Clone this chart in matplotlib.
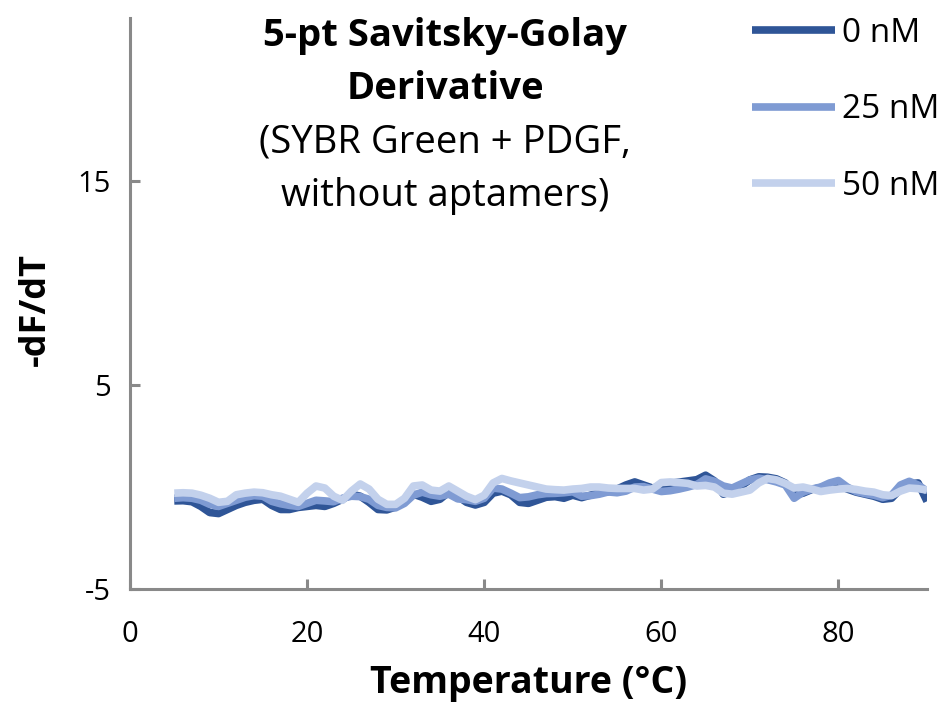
import matplotlib
matplotlib.use("Agg")
import matplotlib.pyplot as plt
import numpy as np

# Melt-curve derivative traces, one value per degree from 5 to 90 °C
temperature = np.arange(5, 91)

conc_labels = ["0 nM", "25 nM", "50 nM"]
conc_colors = ["#2f5597", "#7f9bd3", "#c3d1ec"]

deriv_0nM = [
    -0.68, -0.67, -0.72, -0.95, -1.25, -1.30, -1.10, -0.90, -0.75, -0.65,
    -0.60, -0.90, -1.10, -1.10, -1.00, -0.95, -0.90, -0.95, -0.80, -0.60,
    -0.35, -0.45, -0.75, -1.10, -1.12, -0.98, -0.70, -0.35, -0.50, -0.70,
    -0.60, -0.25, -0.45, -0.75, -0.88, -0.75, -0.30, -0.20, -0.38, -0.75,
    -0.80, -0.65, -0.50, -0.47, -0.55, -0.40, -0.52, -0.40, -0.28, -0.23,
    -0.10, 0.10, 0.25, 0.10, -0.05, 0.05, 0.18, 0.24, 0.30, 0.36,
    0.58, 0.30, -0.35, -0.20, 0.05, 0.35, 0.50, 0.48, 0.40, 0.20,
    -0.40, -0.30, -0.12, -0.02, 0.08, 0.10, -0.10, -0.25, -0.35, -0.45,
    -0.60, -0.55, -0.10, 0.15, 0.20, -0.70,
]
deriv_25nM = [
    -0.55, -0.52, -0.55, -0.65, -0.85, -0.95, -0.80, -0.65, -0.50, -0.42,
    -0.45, -0.70, -0.82, -0.90, -0.95, -0.80, -0.65, -0.68, -0.72, -0.55,
    -0.45, -0.47, -0.60, -0.90, -1.00, -1.02, -0.80, -0.40, -0.25, -0.38,
    -0.45, -0.35, -0.58, -0.62, -0.70, -0.55, -0.05, -0.10, -0.30, -0.52,
    -0.48, -0.38, -0.32, -0.31, -0.28, -0.23, -0.45, -0.42, -0.35, -0.24,
    -0.28, -0.20, 0.00, 0.02, -0.10, -0.22, -0.18, -0.10, 0.00, 0.12,
    0.40, 0.28, 0.05, -0.05, 0.15, 0.35, 0.43, 0.36, 0.25, 0.10,
    -0.55, -0.25, -0.10, 0.00, 0.20, 0.32, 0.00, -0.22, -0.32, -0.40,
    -0.52, -0.40, 0.10, 0.28, 0.10, -0.20,
]
deriv_50nM = [
    -0.30, -0.28, -0.30, -0.40, -0.55, -0.75, -0.70, -0.38, -0.30, -0.25,
    -0.28, -0.38, -0.45, -0.60, -0.75, -0.30, 0.05, -0.05, -0.45, -0.65,
    -0.20, 0.15, -0.10, -0.60, -0.85, -0.85, -0.55, 0.05, 0.10, -0.15,
    -0.20, 0.05, -0.20, -0.45, -0.62, -0.40, 0.20, 0.42, 0.30, 0.20,
    0.10, 0.00, -0.10, -0.13, -0.15, -0.10, -0.07, 0.00, 0.00, -0.05,
    -0.07, -0.07, -0.07, -0.15, -0.10, 0.22, 0.25, 0.22, 0.18, 0.05,
    0.08, 0.00, -0.30, -0.35, -0.25, -0.15, 0.20, 0.42, 0.35, 0.18,
    -0.05, 0.00, -0.10, -0.22, -0.15, -0.10, -0.07, -0.12, -0.20, -0.25,
    -0.38, -0.42, -0.20, -0.05, -0.08, -0.15,
]
series = [deriv_0nM, deriv_25nM, deriv_50nM]

x_ticks = [0, 20, 40, 60, 80]
y_ticks = [-5, 5, 15]

FONT = ["Open Sans", "DejaVu Sans"]
AXIS_GRAY = "#898989"

fig = plt.figure(figsize=(9.46, 7.02), dpi=100)
ax = fig.add_axes([130 / 946, 1 - 589 / 702, 797 / 946, 571 / 702])

for vals, lab, col in zip(series, conc_labels, conc_colors):
    ax.plot(temperature, vals, color=col, linewidth=5.5, label=lab,
            solid_capstyle="butt", solid_joinstyle="round")

ax.set_xlim(0, 90)
ax.set_ylim(-5, 23)
ax.set_xticks(x_ticks)
ax.set_yticks(y_ticks)
ax.set_xticklabels([str(t) for t in x_ticks], fontfamily=FONT, fontsize=21)
ax.set_yticklabels([str(t) for t in y_ticks], fontfamily=FONT, fontsize=21)

for side in ("top", "right"):
    ax.spines[side].set_visible(False)
for side in ("left", "bottom"):
    ax.spines[side].set_color(AXIS_GRAY)
    ax.spines[side].set_linewidth(2.2)
ax.tick_params(axis="both", direction="in", color=AXIS_GRAY, width=2.2,
               length=7, labelcolor="black")
ax.tick_params(axis="x", pad=22)
ax.tick_params(axis="y", pad=14)

ax.set_xlabel("Temperature (°C)", fontfamily=FONT, fontsize=27, fontweight="bold")
ax.xaxis.set_label_coords(0.5, -0.165)
ax.xaxis.label.set_va("center")
ax.set_ylabel("-dF/dT", fontfamily=FONT, fontsize=26, fontweight="bold")
ax.yaxis.set_label_coords(-0.118, 0.49)
ax.yaxis.label.set_va("center")

# Title block: two bold lines, two regular lines
title_lines = [
    ("5-pt Savitsky-Golay", "bold", 36),
    ("Derivative", "bold", 89),
    ("(SYBR Green + PDGF,", "normal", 143),
    ("without aptamers)", "normal", 196),
]
for txt, weight, ypx in title_lines:
    fig.text(445 / 946, 1 - ypx / 702, txt, ha="center", va="center",
             fontfamily=FONT, fontsize=27.5, fontweight=weight)

leg = ax.legend(loc="upper left", bbox_to_anchor=(752 / 946, 1 - 17 / 702),
                bbox_transform=fig.transFigure, frameon=False,
                prop={"family": FONT, "size": 24}, handlelength=2.5,
                handletextpad=0.2, labelspacing=1.3, borderpad=0,
                borderaxespad=0)

fig.savefig("out.png", dpi=100)
